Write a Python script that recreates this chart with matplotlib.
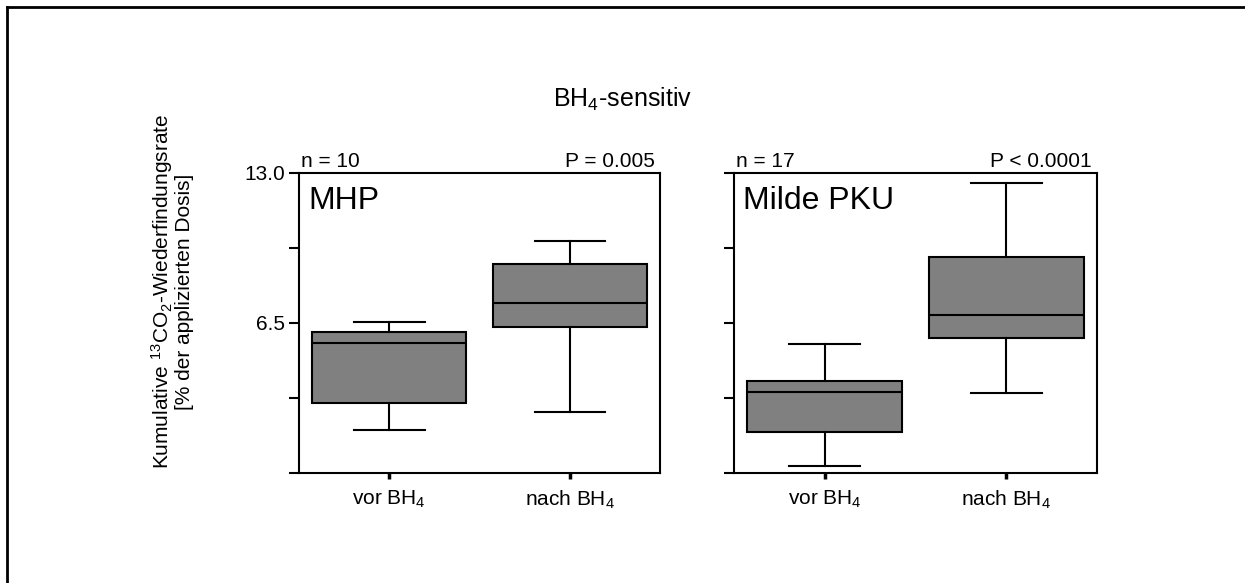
import matplotlib
matplotlib.use("Agg")
import matplotlib.pyplot as plt
from matplotlib.lines import Line2D

plt.rcParams['font.family'] = ['Liberation Sans', 'DejaVu Sans']
plt.rcParams['mathtext.fontset'] = 'custom'
plt.rcParams['mathtext.rm'] = 'Liberation Sans'
plt.rcParams['mathtext.it'] = 'Liberation Sans'
plt.rcParams['mathtext.default'] = 'regular'

# box statistics: (whislo, q1, median, q3, whishi)
groups = ['vor BH$_4$', 'nach BH$_4$']
mhp_stats = [(1.86, 3.02, 5.62, 6.10, 6.56),
             (2.64, 6.31, 7.35, 9.06, 10.07)]
pku_stats = [(0.32, 1.76, 3.50, 3.99, 5.58),
             (3.48, 5.84, 6.85, 9.37, 12.58)]
panel_names = ['MHP', 'Milde PKU']
n_labels = ['n = 10', 'n = 17']
p_labels = ['P = 0.005', 'P < 0.0001']
yticks = [0, 3.25, 6.5, 9.75, 13.0]
ytick_labels = ['', '', '6.5', '', '13.0']


def to_bxp(stats):
    out = []
    for lo, q1, med, q3, hi in stats:
        out.append(dict(whislo=lo, q1=q1, med=med, q3=q3, whishi=hi, fliers=[]))
    return out


fig = plt.figure(figsize=(12.45, 5.83), dpi=100)

ax1 = fig.add_axes([0.2402, 0.1887, 0.29, 0.5146])
ax2 = fig.add_axes([0.5896, 0.1887, 0.2916, 0.5146])

lw = 1.5
small = 15
for ax, stats, name, nl, pl, show in zip([ax1, ax2], [mhp_stats, pku_stats],
                                         panel_names, n_labels, p_labels, [True, False]):
    ax.bxp(to_bxp(stats), positions=[1, 2], widths=0.855, capwidths=0.39,
           patch_artist=True, showfliers=False,
           boxprops=dict(facecolor='#808080', edgecolor='black', linewidth=lw),
           medianprops=dict(color='black', linewidth=lw),
           whiskerprops=dict(color='black', linewidth=lw),
           capprops=dict(color='black', linewidth=lw))
    ax.set_xlim(0.5, 2.5)
    ax.set_ylim(0, 13)
    ax.set_xticks([1, 2])
    ax.set_xticklabels(groups, fontsize=small)
    ax.set_yticks(yticks)
    ax.set_yticklabels(ytick_labels if show else [''] * len(yticks), fontsize=small)
    ax.tick_params(axis='y', direction='out', length=7, width=1.5, pad=3)
    ax.tick_params(axis='x', direction='out', length=4, width=2.5, pad=7)
    for s in ax.spines.values():
        s.set_linewidth(1.5)
    ax.text(0.025, 0.955, name, transform=ax.transAxes, fontsize=23,
            ha='left', va='top')
    ax.text(0.005, 1.006, nl, transform=ax.transAxes, fontsize=small,
            ha='left', va='bottom')
    ax.text(0.985, 1.006, pl, transform=ax.transAxes, fontsize=small,
            ha='right', va='bottom')

fig.text(0.5, 0.83, 'BH$_4$-sensitiv', fontsize=18, ha='center', va='center')
fig.text(0.138, 0.5,
         'Kumulative $^{13}$CO$_2$-Wiederfindungsrate\n[% der applizierten Dosis]',
         rotation=90, fontsize=15, ha='center', va='center', linespacing=1.0)

# frame around the picture (only top and left edges visible)
fig.add_artist(Line2D([0.0056, 1.0], [0.988, 0.988], transform=fig.transFigure,
                      color='black', linewidth=2))
fig.add_artist(Line2D([0.0056, 0.0056], [0.0, 0.988], transform=fig.transFigure,
                      color='black', linewidth=2))

fig.savefig('out.png', dpi=100)
